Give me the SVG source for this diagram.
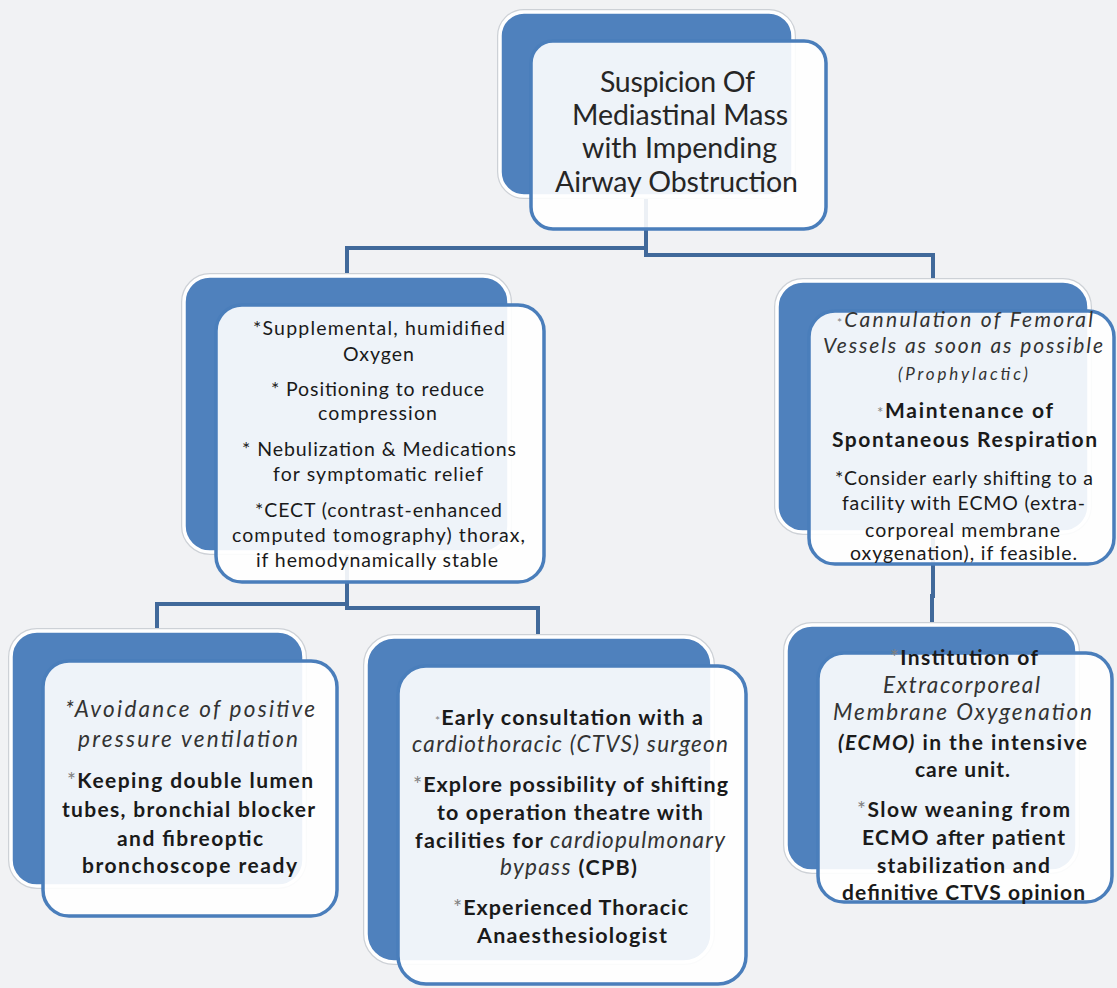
<svg xmlns="http://www.w3.org/2000/svg" width="1117" height="988" viewBox="0 0 1117 988">
<defs>
<style>
.bg{fill:#f1f2f4}
.halo{fill:none;stroke:#cdd1d6;stroke-width:6}
.back{fill:#4f81bd;stroke:#ffffff;stroke-width:3.5}
.front{fill:#ffffff;fill-opacity:0.9;stroke:#4a7ebb;stroke-width:3.5}
.conn{fill:none;stroke:#41699a;stroke-width:4;stroke-linejoin:miter}
text{font-family:Lato,"Liberation Sans",sans-serif;fill:#1a1a1a;text-anchor:middle}
.t1{font-size:28.5px;fill:#262626}
.s19{font-size:19.5px}
.s20{font-size:21px}
.s21{font-size:21.5px}
.b{font-weight:bold}
.i{font-style:italic;fill:#333}
.ri{font-size:21px}
.bi{font-size:22.5px}
.ast{fill:#808080;font-weight:normal;font-style:normal}
</style>
</defs>
<rect class="bg" x="0" y="0" width="1117" height="988"/>
<g id="connectors">
<polyline class="conn" points="646,150 646,248 347,248 347,290"/>
<polyline class="conn" points="646,248 646,255 933,255 933,295"/>
<polyline class="conn" points="347,500 347,604 157,604 157,650"/>
<polyline class="conn" points="347,604 347,608 538,608 538,650"/>
<polyline class="conn" points="933,500 933,596 932,596 932,650"/>
</g>
<g id="node-top">
<rect class="halo" x="500" y="12" width="293" height="184" rx="24"/>
<rect class="back" x="500" y="12" width="293" height="184" rx="24"/>
<rect class="front" x="531" y="41" width="295" height="188" rx="22"/>
<text class="t1" x="677.5" y="92" textLength="155">Suspicion Of</text>
<text class="t1" x="680" y="125" textLength="216">Mediastinal Mass</text>
<text class="t1" x="679.5" y="158" textLength="195">with Impending</text>
<text class="t1" x="676.5" y="192" textLength="243">Airway Obstruction</text>
</g>
<g id="node-left">
<rect class="halo" x="184" y="276" width="325" height="276" rx="26"/>
<rect class="back" x="184" y="276" width="325" height="276" rx="26"/>
<rect class="front" x="216" y="305" width="328" height="277" rx="26"/>
<text class="s19" x="379" y="335" textLength="252">*Supplemental, humidified</text>
<text class="s19" x="378.5" y="361" textLength="71">Oxygen</text>
<text class="s19" x="377.5" y="396" textLength="213">* Positioning to reduce</text>
<text class="s19" x="377.5" y="420" textLength="119">compression</text>
<text class="s19" x="379" y="456" textLength="274">* Nebulization &amp; Medications</text>
<text class="s19" x="378" y="481" textLength="210">for symptomatic relief</text>
<text class="s19" x="378.5" y="517" textLength="247">*CECT (contrast-enhanced</text>
<text class="s19" x="378.5" y="542" textLength="293">computed tomography) thorax,</text>
<text class="s19" x="377" y="567" textLength="242">if hemodynamically stable</text>
</g>
<g id="node-right">
<rect class="halo" x="777" y="281" width="312" height="251" rx="26"/>
<rect class="back" x="777" y="281" width="312" height="251" rx="26"/>
<rect class="front" x="809" y="311" width="305" height="253" rx="26"/>
<text class="ri i" x="965" y="327" textLength="256"><tspan class="ast" font-size="12">*</tspan>Cannulation of Femoral</text>
<text class="ri i" x="963" y="353" textLength="280">Vessels as soon as possible</text>
<text class="i" font-size="17" x="963" y="380" textLength="130">(Prophylactic)</text>
<text class="s20 b" x="965" y="418" textLength="176"><tspan class="ast" font-size="15">*</tspan>Maintenance of</text>
<text class="s20 b" x="964.5" y="447" textLength="265">Spontaneous Respiration</text>
<text class="s19" x="964" y="485" textLength="258">*Consider early shifting to a</text>
<text class="s19" x="963.5" y="510" textLength="243">facility with ECMO (extra-</text>
<text class="s19" x="962.5" y="537" textLength="195">corporeal membrane</text>
<text class="s19" x="963.5" y="560" textLength="227">oxygenation), if feasible.</text>
</g>
<g id="node-bottom-left">
<rect class="halo" x="11" y="631" width="293" height="255" rx="26"/>
<rect class="back" x="11" y="631" width="293" height="255" rx="26"/>
<rect class="front" x="43" y="661" width="294" height="255" rx="26"/>
<text class="bi i" x="190" y="717" textLength="250">*Avoidance of positive</text>
<text class="bi i" x="188" y="747" textLength="220">pressure ventilation</text>
<text class="s20 b" x="190" y="788" textLength="246"><tspan class="ast">*</tspan>Keeping double lumen</text>
<text class="s20 b" x="188.5" y="817" textLength="253">tubes, bronchial blocker</text>
<text class="s20 b" x="190" y="846" textLength="146">and fibreoptic</text>
<text class="s20 b" x="189.5" y="873" textLength="215">bronchoscope ready</text>
</g>
<g id="node-bottom-middle">
<rect class="halo" x="366" y="637" width="346" height="325" rx="28"/>
<rect class="back" x="366" y="637" width="346" height="325" rx="28"/>
<rect class="front" x="398" y="666" width="348" height="318" rx="28"/>
<text class="s21 b" x="569" y="725" textLength="268"><tspan class="ast" font-size="12">*</tspan>Early consultation with a</text>
<text class="bi i" x="570" y="752" textLength="316">cardiothoracic (CTVS) surgeon</text>
<text class="s21 b" x="570.5" y="792" textLength="315"><tspan class="ast">*</tspan>Explore possibility of shifting</text>
<text class="s21 b" x="570" y="820" textLength="266">to operation theatre with</text>
<text class="s21 b" x="570" y="848" textLength="310">facilities for <tspan class="i" font-weight="normal" font-size="22.5">cardiopulmonary</tspan></text>
<text class="s21" x="568.5" y="875" textLength="137"><tspan class="i" font-size="22.5">bypass</tspan> <tspan class="b">(CPB)</tspan></text>
<text class="s21 b" x="570.5" y="915" textLength="235"><tspan class="ast">*</tspan>Experienced Thoracic</text>
<text class="s21 b" x="572" y="943" textLength="190">Anaesthesiologist</text>
</g>
<g id="node-bottom-right">
<rect class="halo" x="786" y="625" width="291" height="246" rx="26"/>
<rect class="back" x="786" y="625" width="291" height="246" rx="26"/>
<rect class="front" x="818" y="653" width="294" height="249" rx="26"/>
<text class="s20 b" x="964" y="665" textLength="148"><tspan class="ast">*</tspan>Institution of</text>
<text class="bi i" x="961.5" y="693" textLength="157">Extracorporeal</text>
<text class="bi i" x="962.5" y="720" textLength="259">Membrane Oxygenation</text>
<text class="s20 b" x="962.5" y="750" textLength="249"><tspan font-style="italic">(ECMO)</tspan> in the intensive</text>
<text class="s20 b" x="962.5" y="777" textLength="95">care unit.</text>
<text class="s20 b" x="963.5" y="817" textLength="213"><tspan class="ast">*</tspan>Slow weaning from</text>
<text class="s20 b" x="963.5" y="845" textLength="203">ECMO after patient</text>
<text class="s20 b" x="963.5" y="873" textLength="173">stabilization and</text>
<text class="s20 b" x="963.5" y="900" textLength="243">definitive CTVS opinion</text>
</g>
</svg>
